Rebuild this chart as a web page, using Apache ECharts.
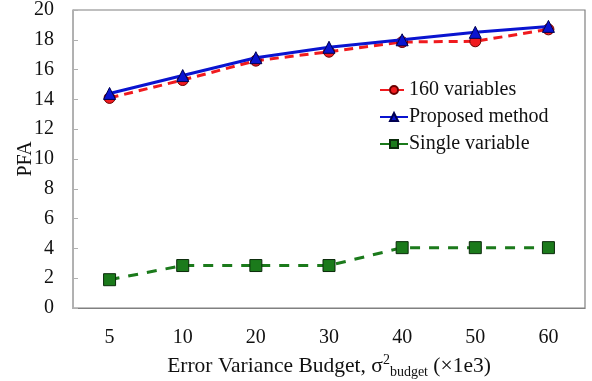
<!DOCTYPE html>
<html><head><meta charset="utf-8">
<script src="https://cdn.jsdelivr.net/npm/echarts@6/dist/echarts.min.js"></script>
<style>html,body{margin:0;padding:0;background:#fff}#c{width:592px;height:381px}</style>
</head><body><div id="c"></div>
<script>
const categories = ['5','10','20','30','40','50','60'];
const vars160 = [14.1, 15.3, 16.6, 17.2, 17.85, 17.9, 18.7];
const proposed = [14.4, 15.6, 16.8, 17.5, 18.0, 18.5, 18.9];
const single = [1.9, 2.85, 2.85, 2.85, 4.05, 4.05, 4.05];
const yTicks = [0, 20, 2];

const font = '"Liberation Serif", "Times New Roman", serif';
const chart = echarts.init(document.getElementById('c'), null, {renderer:'canvas'});
chart.setOption({
  animation: false,
  backgroundColor: '#fff',
  textStyle: {fontFamily: font},
  grid: {left: 73, right: 7, top: 10, bottom: 73, show: true, borderColor: '#808080', borderWidth: 1.2,
         containLabel: false, outerBoundsMode: 'none'},
  legend: {
    left: 374, top: 75, orient: 'vertical', itemGap: 7, itemWidth: 28, itemHeight: 10,
    textStyle: {fontFamily: font, fontSize: 20, color: '#111', padding: [0,0,0,-4]},
    data: ['160 variables', 'Proposed method', 'Single variable']
  },
  xAxis: {
    type: 'category', data: categories, boundaryGap: true,
    axisLine: {lineStyle: {color: '#808080', width: 1.2}},
    axisTick: {inside: true, length: 5, lineStyle: {color: '#808080'}},
    axisLabel: {fontFamily: font, fontSize: 20, color: '#111', margin: 20},
    name: '{a|Error Variance Budget, σ}{sup|2}{sub|budget}{a| (×1e3)}',
    nameLocation: 'middle', nameGap: 45, nameMoveOverlap: false,
    nameTextStyle: {
      rich: {
        a: {fontFamily: font, fontSize: 21.5, color: '#111', lineHeight: 26},
        sup: {fontFamily: font, fontSize: 14, color: '#111', verticalAlign: 'top', lineHeight: 26, padding: [0,0,10,0]},
        sub: {fontFamily: font, fontSize: 14, color: '#111', verticalAlign: 'bottom', lineHeight: 26, padding: [9,0,0,0]}
      }
    }
  },
  yAxis: {
    type: 'value', min: yTicks[0], max: yTicks[1], interval: yTicks[2],
    splitLine: {show: false},
    axisLine: {show: true, lineStyle: {color: '#b0b0b0', width: 1}},
    axisTick: {show: true, inside: true, length: 5, lineStyle: {color: '#b0b0b0'}},
    axisLabel: {fontFamily: font, fontSize: 20, color: '#111', margin: 19},
    name: 'PFA', nameLocation: 'middle', nameGap: 37, nameRotate: 90, nameMoveOverlap: false,
    nameTextStyle: {fontFamily: font, fontSize: 20, color: '#111'}
  },
  series: [
    {name: '160 variables', type: 'line', data: vars160, symbol: 'circle', symbolSize: 11,
     itemStyle: {color: '#f01a1e', borderColor: '#6b0000', borderWidth: 1},
     lineStyle: {color: '#f01a1e', width: 3, type: [9, 6]}, z: 2},
    {name: 'Proposed method', type: 'line', data: proposed, symbol: 'triangle', symbolSize: 12,
     itemStyle: {color: '#0a14d0', borderColor: '#000050', borderWidth: 1},
     lineStyle: {color: '#0a14d0', width: 3}, z: 3},
    {name: 'Single variable', type: 'line', data: single, symbol: 'rect', symbolSize: 12,
     itemStyle: {color: '#1b7a1b', borderColor: '#0a2a0a', borderWidth: 1},
     lineStyle: {color: '#1b7a1b', width: 3, type: [10, 9]}, z: 2}
  ]
});
</script></body></html>
